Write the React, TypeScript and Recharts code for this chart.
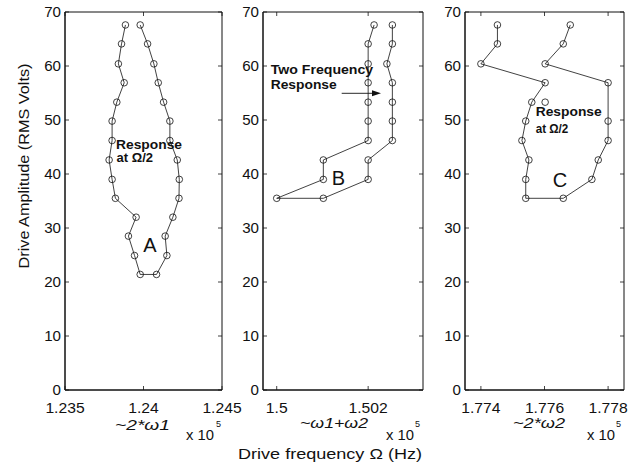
import React from 'react';
import { ScatterChart, Scatter, XAxis, YAxis, ReferenceArea } from 'recharts';

// ---------- data ----------
const amplitudeTicks = [0, 10, 20, 30, 40, 50, 60, 70];
const amplitudeTickLabels = ['0', '10', '20', '30', '40', '50', '60', '70'];

// Panel A  (~2*w1), frequency in units of 1e5 Hz
const aFreq = [1.23885, 1.2386, 1.2384, 1.23877, 1.2383, 1.238, 1.238, 1.23781, 1.238, 1.23821, 1.23953, 1.23904, 1.23943, 1.23979,
  1.24083, 1.24149, 1.24138, 1.24187, 1.24226, 1.24228, 1.24215, 1.24168, 1.24168, 1.24128, 1.24094, 1.24066, 1.24026, 1.23979];
const aAmp = [67.6, 64.1, 60.4, 56.9, 53.3, 49.8, 46.2, 42.6, 39.0, 35.5, 32.0, 28.5, 24.9, 21.4,
  21.4, 24.9, 28.5, 32.0, 35.5, 39.0, 42.6, 46.2, 49.8, 53.3, 56.9, 60.4, 64.1, 67.6];
const aTicks = [1.235, 1.24, 1.245];
const aTickLabels = ['1.235', '1.24', '1.245'];

// Panel B  (~w1+w2)
const bFreq = [1.50213, 1.502, 1.502, 1.502, 1.502, 1.502, 1.502, 1.50102, 1.50102, 1.5,
  1.50102, 1.502, 1.502, 1.50253, 1.50253, 1.50253, 1.50253, 1.50241, 1.50253, 1.50253];
const bAmp = [67.6, 64.1, 60.4, 56.9, 53.3, 49.8, 46.2, 42.6, 39.0, 35.5,
  35.5, 39.0, 42.6, 46.2, 49.8, 53.3, 56.9, 60.4, 64.1, 67.6];
const bTicks = [1.5, 1.502];
const bTickLabels = ['1.5', '1.502'];

// Panel C  (~2*w2)
const cFreq = [1.77452, 1.77452, 1.774, 1.77602, 1.7756, 1.77541, 1.77529, 1.77551, 1.77541, 1.77541,
  1.77659, 1.77749, 1.77769, 1.778, 1.778, 1.778, 1.77602, 1.77659, 1.77681];
const cAmp = [67.6, 64.1, 60.4, 56.9, 53.3, 49.8, 46.2, 42.6, 39.0, 35.5,
  35.5, 39.0, 42.6, 46.2, 49.8, 56.9, 60.4, 64.1, 67.6];
const cLoneFreq = [1.77602];
const cLoneAmp = [53.3];
const cTicks = [1.774, 1.776, 1.778];
const cTickLabels = ['1.774', '1.776', '1.778'];

const toPts = (xs: number[], ys: number[]) => xs.map((x, i) => ({ x, y: ys[i] }));

const FONT = '"Liberation Sans", Arial, Helvetica, sans-serif';
const INK = '#111';
const PLOT_H = 378;
const Y_W = 60;

const Marker = (p: any) => (
  <circle cx={p.cx} cy={p.cy} r={3.3} fill="none" stroke={INK} strokeWidth={0.8} />
);

type PanelProps = {
  left: number;
  width: number;
  mLeft: number;
  mRight: number;
  domain: [number, number];
  ticks: number[];
  tickLabels: string[];
  points: { x: number; y: number }[];
  lone?: { x: number; y: number }[];
};

function Panel({ left, width, mLeft, mRight, domain, ticks, tickLabels, points, lone }: PanelProps) {
  const plotW = width - mLeft - Y_W - mRight;
  const XTick = (props: any) => {
    const { x, y, payload } = props;
    const i = ticks.indexOf(payload.value);
    const label = i >= 0 ? tickLabels[i] : String(payload.value);
    return (
      <g>
        <line x1={x} y1={y} x2={x} y2={y - 4} stroke={INK} strokeWidth={0.8} />
        <line x1={x} y1={y - PLOT_H} x2={x} y2={y - PLOT_H + 4} stroke={INK} strokeWidth={0.8} />
        <text transform={`translate(${x},${y + 23}) scale(1.12,1)`} textAnchor="middle" fontSize={14} fill={INK} fontFamily={FONT}>
          {label}
        </text>
      </g>
    );
  };
  const YTick = (props: any) => {
    const { x, y, payload } = props;
    const i = amplitudeTicks.indexOf(payload.value);
    const label = i >= 0 ? amplitudeTickLabels[i] : String(payload.value);
    return (
      <g>
        <line x1={x} y1={y} x2={x + 4} y2={y} stroke={INK} strokeWidth={0.8} />
        <line x1={x + plotW} y1={y} x2={x + plotW - 4} y2={y} stroke={INK} strokeWidth={0.8} />
        <text transform={`translate(${x - 4},${y + 5}) scale(1.08,1)`} textAnchor="end" fontSize={14} fill={INK} fontFamily={FONT}>
          {label}
        </text>
      </g>
    );
  };
  return (
    <div style={{ position: 'absolute', left, top: 0 }}>
      <ScatterChart width={width} height={420} margin={{ top: 12, right: mRight, bottom: 0, left: mLeft }}>
        <XAxis
          type="number"
          dataKey="x"
          domain={domain}
          ticks={ticks}
          allowDataOverflow
          interval={0}
          height={30}
          tickLine={false}
          tickSize={0}
          tickMargin={0}
          axisLine={{ stroke: INK }}
          tick={XTick}
        />
        <YAxis
          type="number"
          dataKey="y"
          domain={[0, 70]}
          ticks={amplitudeTicks}
          allowDataOverflow
          interval={0}
          width={Y_W}
          tickLine={false}
          tickSize={0}
          tickMargin={0}
          axisLine={{ stroke: INK }}
          tick={YTick}
        />
        <ReferenceArea x1={domain[0]} x2={domain[1]} y1={0} y2={70} fill="none" stroke={INK} strokeWidth={1} ifOverflow="visible" />
        <Scatter
          data={points}
          line={{ stroke: INK, strokeWidth: 0.8 }}
          lineType="joint"
          shape={Marker}
          isAnimationActive={false}
        />
        {lone ? <Scatter data={lone} shape={Marker} isAnimationActive={false} /> : null}
      </ScatterChart>
    </div>
  );
}

export default function App() {
  const bold = { fontFamily: FONT, fontWeight: 700 as const, fontSize: 12, fill: INK };
  const big = { fontFamily: FONT, fontSize: 20, fill: INK };
  const ital = { fontFamily: FONT, fontStyle: 'italic' as const, fontSize: 14, fill: INK };
  const norm = { fontFamily: FONT, fontSize: 14, fill: INK };
  return (
    <div style={{ position: 'absolute', left: 0, top: 0, width: 639, height: 470, background: '#fff', fontFamily: FONT }}>
      <Panel left={0} width={262} mLeft={5} mRight={40} domain={[1.235, 1.245]} ticks={aTicks} tickLabels={aTickLabels} points={toPts(aFreq, aAmp)} />
      <Panel left={200} width={252} mLeft={3} mRight={29} domain={[1.4997, 1.5032]} ticks={bTicks} tickLabels={bTickLabels} points={toPts(bFreq, bAmp)} />
      <Panel left={400} width={239} mLeft={5} mRight={15} domain={[1.7735, 1.7785]} ticks={cTicks} tickLabels={cTickLabels} points={toPts(cFreq, cAmp)} lone={toPts(cLoneFreq, cLoneAmp)} />
      <svg width={639} height={470} style={{ position: 'absolute', left: 0, top: 0, pointerEvents: 'none' }}>
        {/* y-axis title */}
        <text transform="translate(29,166) rotate(-90)" textAnchor="middle" fontFamily={FONT} fontSize={15} fill={INK} textLength={205} lengthAdjust="spacingAndGlyphs">
          Drive Amplitude (RMS Volts)
        </text>
        {/* x-axis title */}
        <text x={238} y={459} fontFamily={FONT} fontSize={15} fill={INK} textLength={184} lengthAdjust="spacingAndGlyphs">
          Drive frequency Ω (Hz)
        </text>
        {/* panel A */}
        <text x={116} y={149} {...bold} textLength={66} lengthAdjust="spacingAndGlyphs">Response</text>
        <text x={116.5} y={161.5} {...bold} textLength={36.5} lengthAdjust="spacingAndGlyphs">at Ω/2</text>
        <text x={150} y={252} textAnchor="middle" {...big}>A</text>
        <text x={115} y={430} {...ital} textLength={55} lengthAdjust="spacingAndGlyphs">~2*ω1</text>
        <text x={186} y={440} {...norm} textLength={28} lengthAdjust="spacingAndGlyphs">x 10</text>
        <text x={216} y={427} fontFamily={FONT} fontSize={9} fill={INK}>5</text>
        {/* panel B */}
        <text x={270.7} y={73.5} {...bold} textLength={102.5} lengthAdjust="spacingAndGlyphs">Two Frequency</text>
        <text x={270.7} y={89.3} {...bold} textLength={66} lengthAdjust="spacingAndGlyphs">Response</text>
        <line x1={341.7} y1={93.3} x2={374} y2={93.3} stroke={INK} strokeWidth={0.9} />
        <polygon points="381,93.3 372,90.3 372,96.3" fill={INK} />
        <text x={338.5} y={185} textAnchor="middle" {...big}>B</text>
        <text x={300} y={428} {...ital} textLength={68} lengthAdjust="spacingAndGlyphs">~ω1+ω2</text>
        <text x={386} y={440} {...norm} textLength={28} lengthAdjust="spacingAndGlyphs">x 10</text>
        <text x={415} y={427} fontFamily={FONT} fontSize={9} fill={INK}>5</text>
        {/* panel C */}
        <text x={535.7} y={116} {...bold} textLength={66} lengthAdjust="spacingAndGlyphs">Response</text>
        <text x={535.7} y={133} {...bold} textLength={32.6} lengthAdjust="spacingAndGlyphs">at Ω/2</text>
        <text x={560} y={187} textAnchor="middle" {...big}>C</text>
        <text x={513} y={428} {...ital} textLength={52} lengthAdjust="spacingAndGlyphs">~2*ω2</text>
        <text x={587} y={440} {...norm} textLength={28} lengthAdjust="spacingAndGlyphs">x 10</text>
        <text x={616} y={427} fontFamily={FONT} fontSize={9} fill={INK}>5</text>
      </svg>
    </div>
  );
}
